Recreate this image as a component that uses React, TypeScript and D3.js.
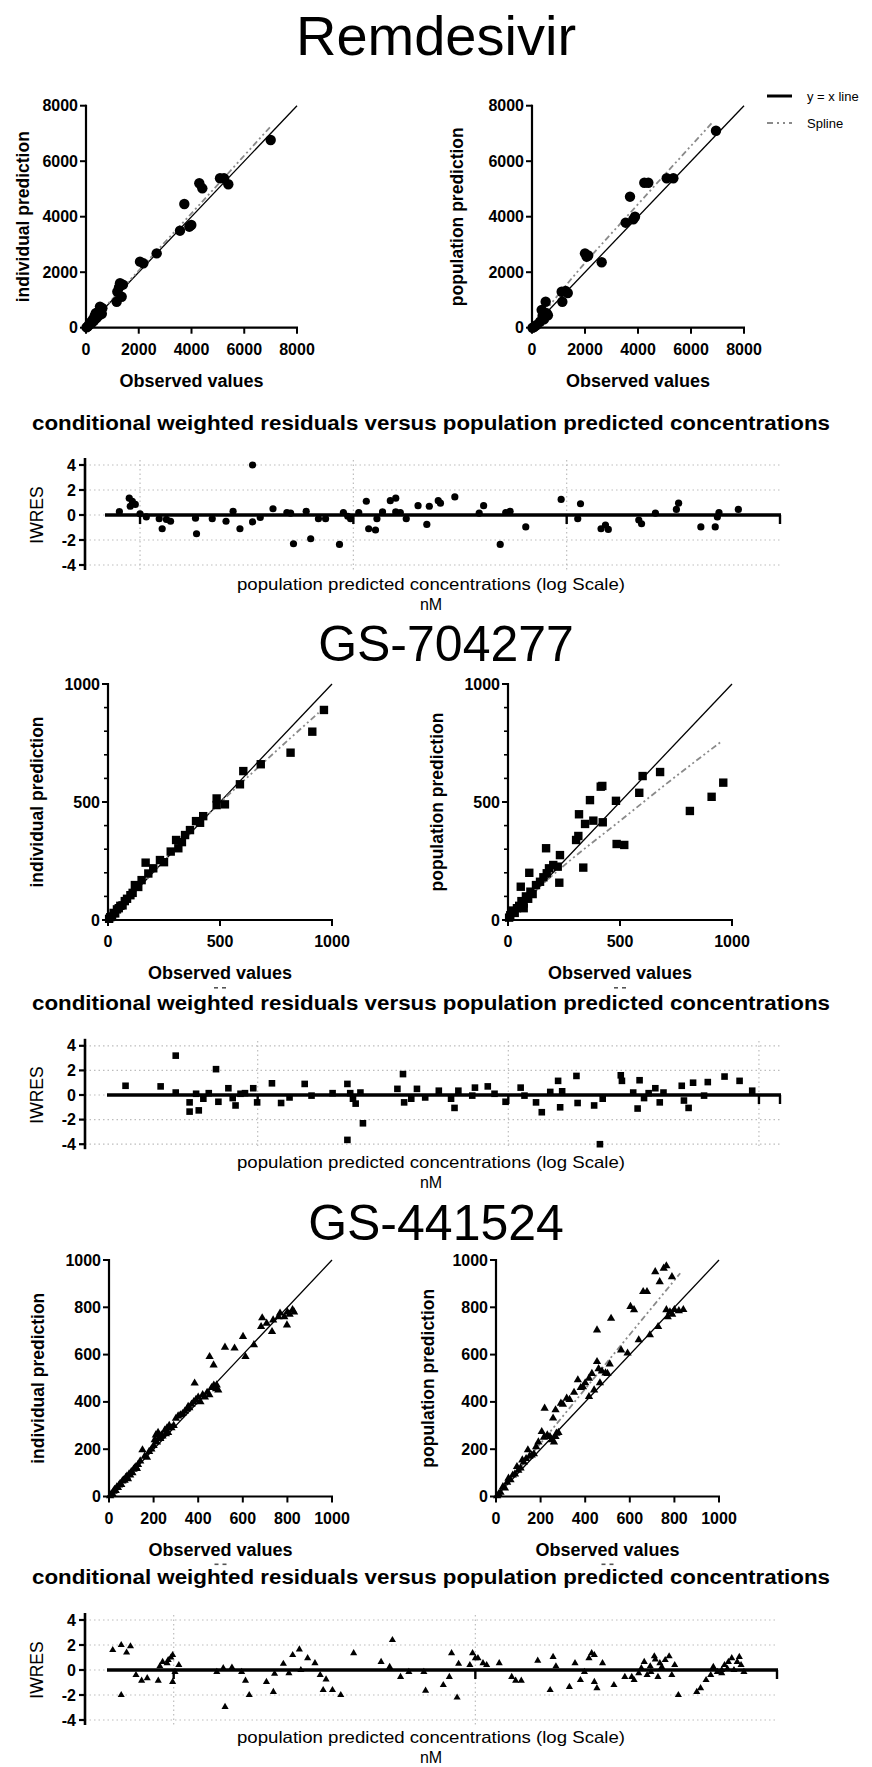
import React from 'react';
import * as d3 from 'd3';

type Pt = [number, number];

// ---------- Remdesivir ----------
const remIndividual: Pt[] = [
  [20, 10], [60, 40], [100, 90], [150, 120], [180, 200], [220, 180], [260, 300], [300, 250], [330, 420],
  [370, 520], [400, 350], [430, 480], [450, 560], [500, 450], [530, 760], [560, 620], [600, 500], [620, 700],
  [1163, 937], [1188, 1297], [1289, 1600], [1353, 1117], [1250, 1450], [1400, 1550], [2047, 2380], [2173, 2320],
  [2680, 2680], [3564, 3496], [3728, 4457], [3917, 3640], [3993, 3700], [4296, 5204], [4410, 5023], [5081, 5384],
  [5233, 5384], [5396, 5168], [7002, 6764],
];
const remPopulation: Pt[] = [
  [20, 0], [87, 30], [176, 97], [302, 216], [365, 638], [400, 420], [450, 300], [516, 937], [554, 519], [600, 450],
  [1120, 1297], [1145, 937], [1270, 1322], [1350, 1250], [2000, 2680], [2063, 2559], [2120, 2600], [2629, 2357],
  [3535, 3784], [3698, 4721], [3823, 3906], [3887, 4000], [4238, 5225], [4389, 5225], [5083, 5384], [5333, 5384],
  [6943, 7099],
];
const remSplineInd: Pt[] = [[0, 0], [2000, 2060], [4000, 4120], [7000, 7250]];
const remSplinePop: Pt[] = [[0, 0], [1434, 1700], [4000, 4450], [6830, 7420]];
// [population predicted conc (nM), IWRES]
const remResiduals: Pt[] = [
  [8.0, 0.27], [8.9, 1.35], [9.0, 0.7], [9.2, 1.1], [9.5, 0.85], [10, 0.1], [10.7, -0.15], [12.3, -0.3], [12.7, -1.1],
  [13.3, -0.35], [13.9, -0.5], [18.2, -0.25], [18.4, -1.5], [21.8, -0.3], [25.3, -0.5], [27.3, 0.3], [29.4, -1.1],
  [33.7, 4.0], [33.7, -0.55], [36.6, -0.2], [42, 0.5], [48.8, 0.2], [50.8, 0.15], [52.4, -2.3], [60.1, 0.3],
  [63.1, -1.9], [68.6, -0.3], [74.1, -0.3], [86.1, -2.35], [89.8, 0.2], [94.1, -0.1], [97, -0.3], [106, 0.2],
  [115, 1.1], [118, -1.1], [127, -1.2], [129, -0.3], [137, 0.25], [149, 1.15], [158, 1.35], [158, 0.25], [166, 0.2],
  [177, -0.3], [201, 0.75], [221, -0.75], [227, 0.7], [250, 1.15], [256, 0.95], [299, 1.45], [389, 0.15], [408, 0.75],
  [488, -2.35], [518, 0.2], [543, 0.3], [643, -0.95], [942, 1.25], [1127, -0.3], [1161, 0.9], [1449, -1.1],
  [1520, -0.8], [1567, -1.15], [2178, -0.4], [2244, -0.7], [2606, 0.15], [3268, 0.45], [3347, 0.95], [4256, -0.95],
  [4970, -0.95], [5086, -0.15], [5176, 0.2], [6379, 0.45],
];

// ---------- GS-704277 ----------
const gs7Individual: Pt[] = [
  [5, 5], [10, 12], [18, 15], [25, 30], [32, 28], [40, 45], [48, 50], [55, 60], [65, 62], [75, 80], [85, 90],
  [100, 105], [110, 115], [120, 148], [135, 140], [150, 169], [168, 243], [180, 197], [202, 219], [232, 254],
  [250, 245], [280, 290], [304, 339], [314, 304], [330, 330], [344, 360], [366, 381], [393, 419], [411, 412],
  [425, 440], [485, 515], [485, 487], [522, 490], [589, 575], [604, 631], [682, 660], [815, 709], [912, 798],
  [964, 890],
];
const gs7Population: Pt[] = [
  [5, 10], [10, 20], [20, 40], [30, 30], [40, 50], [50, 60], [57, 141], [60, 80], [70, 50], [70, 70], [80, 100],
  [90, 90], [95, 200], [100, 120], [110, 110], [125, 148], [143, 162], [158, 181], [170, 304], [173, 198],
  [183, 219], [202, 233], [222, 226], [229, 158], [232, 275], [304, 339], [314, 356], [317, 448], [336, 222],
  [344, 407], [366, 508], [381, 421], [414, 565], [421, 568], [423, 414], [482, 505], [485, 322], [519, 318],
  [586, 539], [601, 610], [679, 627], [812, 462], [909, 522], [961, 582],
];
const gs7SplineInd: Pt[] = [[0, 0], [250, 250], [450, 450], [700, 672], [940, 878]];
const gs7SplinePop: Pt[] = [[0, 0], [150, 148], [263, 241], [500, 420], [700, 572], [955, 758]];
const gs7Residuals: Pt[] = [
  [2.97, 0.75], [4.1, 0.7], [4.71, 3.2], [4.71, 0.2], [5.35, -0.6], [5.35, -1.35], [5.68, 0.1], [5.82, -1.25],
  [6.07, -0.3], [6.38, 0.15], [6.82, 2.1], [6.97, -0.55], [7.64, 0.55], [7.95, -0.25], [8.16, -0.85], [8.54, 0.1],
  [8.9, 0.15], [9.6, 0.55], [9.95, -0.6], [11.4, 0.95], [12.4, -0.65], [13.4, -0.2], [15.4, 0.9], [16.4, -0.05],
  [19.9, 0.15], [22.8, -3.65], [22.8, 0.9], [23.4, 0.15], [24, -0.3], [24.6, -0.7], [25.7, 0.2], [26.3, -2.3],
  [36.1, 0.5], [38, 1.7], [38.4, -0.6], [41, -0.3], [43.2, 0.5], [46.6, -0.2], [52.8, 0.35], [59.1, -0.3],
  [61, -1.05], [63.2, 0.35], [71.8, -0.05], [73.6, 0.6], [82.8, 0.7], [88.1, 0.1], [97.5, -0.55], [112, 0.6],
  [116, -0.05], [129, -0.6], [136, -1.4], [147, 0.25], [158, 1.15], [161, -1.0], [164, 0.3], [187, 1.55],
  [189, -0.65], [220, -0.85], [232, -4.0], [238, -0.3], [281, 1.6], [284, 1.15], [315, 0.2], [328, -1.1],
  [334, 1.2], [348, -0.25], [363, 0.15], [386, 0.55], [402, -0.6], [416, 0.2], [492, 0.75], [502, -0.45],
  [524, -1.05], [546, 1.0], [604, -0.05], [625, 1.05], [729, 1.5], [837, 1.15], [940, 0.35],
];

// ---------- GS-441524 ----------
const gs4Individual: Pt[] = [
  [5, 3], [10, 10], [15, 12], [20, 22], [25, 30], [30, 25], [35, 40], [40, 38], [45, 48], [50, 55], [55, 50],
  [60, 65], [65, 70], [70, 68], [75, 80], [80, 85], [85, 75], [90, 95], [95, 90], [100, 105], [105, 100], [110, 115],
  [115, 120], [120, 125], [125, 118], [130, 135], [140, 150], [150, 197], [160, 170], [170, 165], [180, 190],
  [190, 200], [200, 215], [205, 240], [210, 260], [215, 230], [220, 270], [225, 250], [230, 245], [235, 260],
  [240, 255], [250, 280], [255, 265], [260, 290], [265, 270], [270, 300], [280, 290], [290, 300], [300, 330],
  [310, 340], [320, 345], [330, 350], [340, 360], [350, 370], [355, 380], [360, 375], [370, 390], [380, 400],
  [384, 479], [390, 410], [400, 420], [410, 400], [420, 430], [430, 420], [440, 440], [450, 430], [460, 460],
  [469, 556], [470, 470], [480, 455], [483, 471], [490, 450], [451, 591], [520, 631], [563, 627], [601, 676],
  [612, 591], [650, 641], [682, 718], [687, 755], [707, 732], [731, 697], [736, 746], [767, 775], [786, 760],
  [798, 725], [823, 789], [810, 770], [830, 780], [800, 780], [760, 760],
];
const gs4Population: Pt[] = [
  [5, 3], [12, 10], [20, 18], [31, 41], [40, 35], [50, 60], [56, 77], [65, 70], [75, 90], [85, 95], [94, 126],
  [100, 110], [110, 120], [118, 154], [125, 145], [135, 160], [143, 197], [150, 170], [160, 175], [170, 180],
  [180, 210], [190, 230], [205, 274], [215, 250], [218, 373], [230, 260], [242, 253], [250, 240], [256, 331],
  [260, 230], [267, 366], [267, 253], [271, 267], [280, 270], [291, 394], [300, 390], [317, 415], [330, 410],
  [350, 440], [367, 493], [380, 460], [390, 464], [400, 480], [417, 500], [417, 422], [430, 520], [440, 450],
  [453, 570], [460, 540], [466, 480], [475, 530], [491, 522], [500, 520], [510, 560], [453, 704], [516, 753],
  [561, 619], [590, 606], [603, 803], [619, 789], [640, 662], [660, 866], [677, 866], [690, 683], [714, 950],
  [727, 718], [734, 908], [752, 965], [764, 975], [764, 789], [770, 760], [780, 780], [789, 929], [790, 770],
  [800, 790], [820, 785], [840, 790],
];
const gs4SplinePop: Pt[] = [[0, 0], [200, 225], [400, 455], [600, 685], [826, 944]];
const gs4Residuals: Pt[] = [
  [6.28, 1.6], [6.7, 2.0], [6.7, -2.0], [6.98, 1.4], [7.19, 1.9], [7.5, -0.4], [7.83, -0.85], [8.17, -0.65],
  [8.89, -0.85], [9.0, 0.3], [9.19, 0.65], [9.51, 0.55], [9.59, 0.8], [9.79, 1.0], [9.92, 1.2], [9.92, -0.95],
  [10.1, -0.15], [10.4, 0.4], [13.9, -0.15], [14.6, 0.15], [14.8, -2.95], [15.6, 0.2], [16.8, -0.15], [17.3, -0.85],
  [17.8, -2.0], [20.3, -0.95], [21.4, -1.75], [21.6, -0.3], [23.1, 0.5], [24.1, -0.25], [24.8, 1.2], [26.1, 1.65],
  [26.4, 0.0], [27.8, 0.95], [29.4, 0.55], [30.6, -0.4], [31.3, -1.6], [32, -0.75], [33.6, -1.6], [35.8, -2.0],
  [39.5, 1.35], [48.7, 0.65], [52, 0.25], [53.1, 2.4], [56.5, -0.55], [60.2, -0.15], [67.5, -0.15], [68.4, -1.65],
  [78.3, -1.2], [82, -0.55], [83.4, 1.35], [87, -2.2], [88, 0.5], [95.9, 0.4], [97.9, 1.35], [100, 0.95],
  [102, 0.95], [106, 0.55], [109, 0.4], [120, 0.55], [132, -0.55], [136, -0.85], [142, -0.85], [161, 0.75],
  [177, -1.6], [181, 1.05], [185, 0.3], [205, -1.35], [214, 0.55], [223, -0.8], [230, -0.15], [238, 0.95],
  [243, 1.35], [248, 1.2], [248, -0.95], [253, -1.45], [264, 0.55], [288, -1.2], [313, -0.55], [330, -0.55],
  [336, -0.8], [348, -0.25], [355, 0.15], [363, 0.65], [371, -0.4], [380, 0.3], [382, -0.15], [392, 1.1],
  [395, 0.85], [403, -0.55], [409, 0.55], [415, 0.25], [426, 0.8], [439, 1.1], [448, -0.4], [458, 0.4],
  [471, -2.0], [542, -1.75], [558, -1.45], [582, -0.8], [603, -0.4], [615, 0.25], [634, -0.15], [656, 0.0],
  [656, -0.25], [670, 0.4], [685, 0.1], [690, 0.65], [708, 0.95], [720, 0.0], [738, 0.65], [750, 1.05],
  [760, 0.4], [777, -0.15],
];

const residualTitle = 'conditional weighted residuals versus population predicted concentrations';
const residualXLabel = 'population predicted concentrations (log Scale)';
const FONT = '"Liberation Sans", Arial, Helvetica, sans-serif';

type MarkerKind = 'circle' | 'square' | 'triangle';

const Marker: React.FC<{ kind: MarkerKind; x: number; y: number; s: number }> = ({ kind, x, y, s }) => {
  if (kind === 'circle') return <circle cx={x} cy={y} r={s} fill="#000" />;
  const type = kind === 'square' ? d3.symbolSquare : d3.symbolTriangle;
  const area = kind === 'square' ? (2 * s) ** 2 : (Math.sqrt(3) / 4) * (2.3 * s) ** 2;
  const d = d3.symbol().type(type).size(area)() || '';
  return <path d={d} transform={`translate(${x},${y})`} fill="#000" />;
};

interface ScatterProps {
  left: number; right: number; top: number; bottom: number;
  max: number; step: number; minor?: number;
  data: Pt[]; spline?: Pt[]; marker: MarkerKind; size: number;
  yLabel: string; yLabelX: number; scan?: boolean;
}

const Scatter: React.FC<ScatterProps> = ({ left, right, top, bottom, max, step, minor, data, spline, marker, size, yLabel, yLabelX, scan }) => {
  const x = d3.scaleLinear().domain([0, max]).range([left, right]);
  const y = d3.scaleLinear().domain([0, max]).range([bottom, top]);
  const major = d3.range(0, max + 1, step);
  const minors = minor ? d3.range(0, max + 1, minor).filter(v => v % step !== 0) : [];
  const line = d3.line<Pt>().x(d => x(d[0])).y(d => y(d[1])).curve(d3.curveMonotoneX);
  const cx = (left + right) / 2;
  return (
    <g>
      {/* y = x line */}
      <line x1={x(0)} y1={y(0)} x2={x(max)} y2={y(max)} stroke="#000" strokeWidth={1.3} />
      {spline && <path d={line(spline) || ''} fill="none" stroke="#8a8a8a" strokeWidth={1.8} strokeDasharray="6,3,2,3,2,3" />}
      {data.map((d, i) => <Marker key={i} kind={marker} x={x(d[0])} y={y(d[1])} s={size} />)}
      {/* axes */}
      <line x1={left} y1={top - 1} x2={left} y2={bottom + 1} stroke="#000" strokeWidth={2.2} />
      <line x1={left - 1} y1={bottom} x2={right + 1} y2={bottom} stroke="#000" strokeWidth={2.2} />
      {major.map(v => (
        <g key={'y' + v}>
          <line x1={left - 6} x2={left} y1={y(v)} y2={y(v)} stroke="#000" strokeWidth={2} />
          <text x={left - 8} y={y(v) + 5.5} textAnchor="end" fontSize={16} fontWeight="bold">{v}</text>
          <line x1={x(v)} x2={x(v)} y1={bottom} y2={bottom + 6} stroke="#000" strokeWidth={2} />
          <text x={x(v)} y={bottom + 27} textAnchor="middle" fontSize={16} fontWeight="bold">{v}</text>
        </g>
      ))}
      {minors.map(v => (
        <line key={'m' + v} x1={left - 4} x2={left} y1={y(v)} y2={y(v)} stroke="#000" strokeWidth={1.6} />
      ))}
      <text x={cx} y={bottom + 59} textAnchor="middle" fontSize={18} fontWeight="bold">Observed values</text>
      {scan && (
        <g fill="#555">
          <rect x={cx - 6} y={bottom + 67} width={4} height={1.6} />
          <rect x={cx + 2} y={bottom + 67} width={4} height={1.6} />
        </g>
      )}
      <text transform={`translate(${yLabelX},${(top + bottom) / 2}) rotate(-90)`} textAnchor="middle" fontSize={17.5} fontWeight="bold">{yLabel}</text>
    </g>
  );
};

interface ResidualProps {
  left: number; right: number; lineStart: number; zero: number; unit: number;
  logMin: number; logMax: number; decades: number[];
  data: Pt[]; marker: MarkerKind; size: number; titleY: number; labelGap: number;
}

const Residual: React.FC<ResidualProps> = ({ left, right, lineStart, zero, unit, logMin, logMax, decades, data, marker, size, titleY, labelGap }) => {
  const x = d3.scaleLog().domain([10 ** logMin, 10 ** logMax]).range([left, right]);
  const y = d3.scaleLinear().domain([-4, 4]).range([zero + 4 * unit, zero - 4 * unit]);
  const yTicks = [-4, -2, 0, 2, 4];
  const grid = decades.filter(v => x(v) < right - 3);
  const xTicks = [...decades, 10 ** logMax];
  return (
    <g>
      <text x={431} y={titleY} textAnchor="middle" fontSize={20} fontWeight="bold" textLength={798} lengthAdjust="spacingAndGlyphs">{residualTitle}</text>
      {/* dotted grid */}
      {yTicks.map(v => (
        <line key={'h' + v} x1={left} x2={right} y1={y(v)} y2={y(v)} stroke="#bdbdbd" strokeWidth={1.2} strokeDasharray="1.5,3" />
      ))}
      {grid.map(v => (
        <line key={'v' + v} x1={x(v)} x2={x(v)} y1={y(4.4)} y2={y(-4.4)} stroke="#bdbdbd" strokeWidth={1.2} strokeDasharray="1.5,3" />
      ))}
      {/* zero line drawn as the x axis */}
      <line x1={lineStart} x2={right + 1} y1={y(0)} y2={y(0)} stroke="#000" strokeWidth={3.5} />
      {xTicks.map(v => (
        <line key={'t' + v} x1={x(v)} x2={x(v)} y1={y(0)} y2={y(0) + 9} stroke="#000" strokeWidth={2.4} />
      ))}
      {data.map((d, i) => <Marker key={i} kind={marker} x={x(d[0])} y={y(d[1])} s={size} />)}
      {/* y axis */}
      <line x1={left} x2={left} y1={y(4) - 7} y2={y(-4) + 5} stroke="#000" strokeWidth={2.6} />
      {yTicks.map(v => (
        <g key={'yt' + v}>
          <line x1={left - 6} x2={left} y1={y(v)} y2={y(v)} stroke="#000" strokeWidth={2.2} />
          <text x={left - 9} y={y(v) + 5.5} textAnchor="end" fontSize={16} fontWeight="bold">{v}</text>
        </g>
      ))}
      <text transform={`translate(43,${y(0)}) rotate(-90)`} textAnchor="middle" fontSize={17.5}>IWRES</text>
      <text x={431} y={y(-4) + labelGap} textAnchor="middle" fontSize={16.5} textLength={388} lengthAdjust="spacingAndGlyphs">{residualXLabel}</text>
      <text x={431} y={y(-4) + labelGap + 20} textAnchor="middle" fontSize={16}>nM</text>
    </g>
  );
};

const App: React.FC = () => {
  return (
    <svg width={872} height={1767} viewBox="0 0 872 1767"
      style={{ position: 'absolute', left: 0, top: 0, background: '#fff', fontFamily: FONT }}>
      <rect width={872} height={1767} fill="#fff" />

      {/* ---------- Remdesivir ---------- */}
      <text x={436} y={55} textAnchor="middle" fontSize={56}>Remdesivir</text>
      <Scatter left={86} right={297} top={105.7} bottom={327.7} max={8000} step={2000}
        data={remIndividual} spline={remSplineInd} marker="circle" size={5.2}
        yLabel="individual prediction" yLabelX={29} />
      <Scatter left={532} right={744} top={105.7} bottom={327.7} max={8000} step={2000}
        data={remPopulation} spline={remSplinePop} marker="circle" size={5.2}
        yLabel="population prediction" yLabelX={463} />
      <g>
        <line x1={767} x2={792} y1={96} y2={96} stroke="#000" strokeWidth={3} />
        <text x={807} y={100.5} fontSize={13}>y = x line</text>
        <line x1={767} x2={792} y1={123} y2={123} stroke="#8a8a8a" strokeWidth={2.2} strokeDasharray="6,4,2,4,2,4" />
        <text x={807} y={127.5} fontSize={13}>Spline</text>
      </g>
      <Residual left={85} right={780} lineStart={105} zero={515} unit={12.5}
        logMin={0.742} logMax={4} decades={[10, 100, 1000]}
        data={remResiduals} marker="circle" size={3.6} titleY={430} labelGap={25} />

      {/* ---------- GS-704277 ---------- */}
      <text x={446} y={661} textAnchor="middle" fontSize={50}>GS-704277</text>
      <Scatter left={108} right={332} top={684} bottom={920} max={1000} step={500} minor={100}
        data={gs7Individual} spline={gs7SplineInd} marker="square" size={4.2}
        yLabel="individual prediction" yLabelX={43} scan />
      <Scatter left={508} right={732} top={684} bottom={920} max={1000} step={500} minor={100}
        data={gs7Population} spline={gs7SplinePop} marker="square" size={4.2}
        yLabel="population prediction" yLabelX={443} scan />
      <Residual left={85} right={780} lineStart={107} zero={1095} unit={12.3}
        logMin={0.311} logMax={3.084} decades={[10, 100, 1000]}
        data={gs7Residuals} marker="square" size={3.3} titleY={1010} labelGap={24} />

      {/* ---------- GS-441524 ---------- */}
      <text x={436} y={1240} textAnchor="middle" fontSize={50}>GS-441524</text>
      <Scatter left={109} right={332} top={1260} bottom={1496.5} max={1000} step={200}
        data={gs4Individual} marker="triangle" size={3.6}
        yLabel="individual prediction" yLabelX={44} scan />
      <Scatter left={496} right={719} top={1260} bottom={1496.5} max={1000} step={200}
        data={gs4Population} spline={gs4SplinePop} marker="triangle" size={3.6}
        yLabel="population prediction" yLabelX={434} scan />
      <Residual left={85} right={777} lineStart={107} zero={1670} unit={12.5}
        logMin={0.706} logMax={3} decades={[10, 100]}
        data={gs4Residuals} marker="triangle" size={3.1} titleY={1584} labelGap={23} />
    </svg>
  );
};

export default App;
